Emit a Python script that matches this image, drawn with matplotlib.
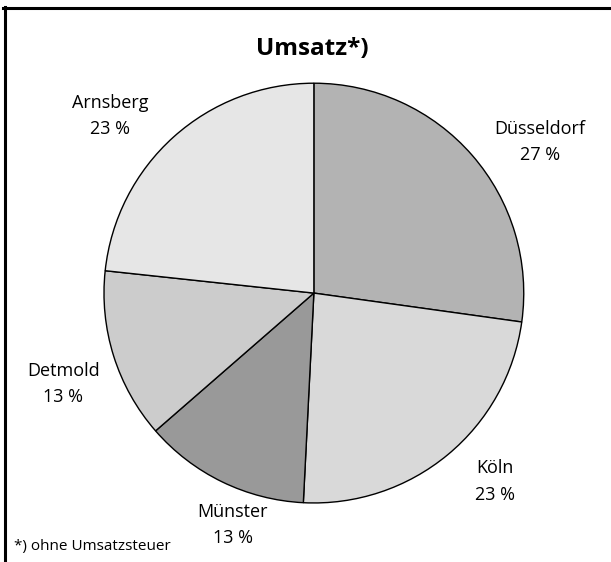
import matplotlib.pyplot as plt
from matplotlib.lines import Line2D

plt.rcParams['font.family'] = ['Open Sans', 'DejaVu Sans']

regions = ['Düsseldorf', 'Köln', 'Münster', 'Detmold', 'Arnsberg']
shares = [27.2, 23.6, 12.8, 13.1, 23.3]
pct_labels = ['27 %', '23 %', '13 %', '13 %', '23 %']
colors = ['#b3b3b3', '#d9d9d9', '#999999', '#cccccc', '#e6e6e6']

# label block centres, in pie radius units
label_pos = [(1.076, 0.721), (0.862, -0.898), (-0.386, -1.105),
             (-1.195, -0.433), (-0.971, 0.843)]

fig = plt.figure(figsize=(6.11, 5.62), dpi=100)
ax = fig.add_axes([0.1702, 0.105, 0.687, 0.747])

wedges, _ = ax.pie(shares, colors=colors, startangle=90, counterclock=False,
                   wedgeprops=dict(edgecolor='black', linewidth=1.0))

for name, pct, (x, y) in zip(regions, pct_labels, label_pos):
    ax.text(x, y, name + '\n' + pct, ha='center', va='center',
            fontsize=13, linespacing=1.6)

ax.set_xlim(-1, 1)
ax.set_ylim(-1, 1)

fig.text(0.511, 0.913, 'Umsatz*)', ha='center', va='center', fontsize=17.5, fontweight='bold')
fig.text(0.023, 0.021, '*) ohne Umsatzsteuer', ha='left', va='baseline', fontsize=11)

# frame: top and left only
fig.lines.append(Line2D([0.005, 1.0], [0.986, 0.986], transform=fig.transFigure,
                        color='black', linewidth=2.2))
fig.lines.append(Line2D([0.0074, 0.0074], [0.988, 0.0], transform=fig.transFigure,
                        color='black', linewidth=2.2))

fig.savefig('out.png', dpi=100)
